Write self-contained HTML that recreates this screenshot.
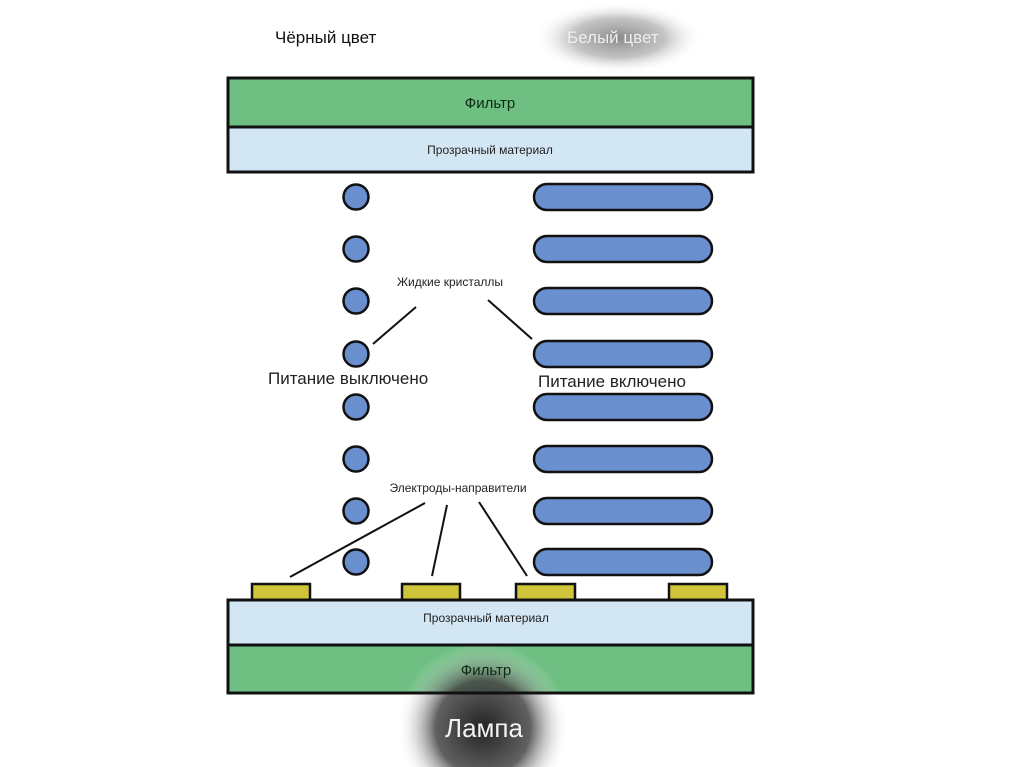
<!DOCTYPE html>
<html><head><meta charset="utf-8"><style>
html,body{margin:0;padding:0;background:#fff;width:1024px;height:767px;overflow:hidden}
svg{display:block;overflow:hidden}
text{font-family:"Liberation Sans","DejaVu Sans",sans-serif}
</style></head><body>
<svg width="1024" height="767" viewBox="0 0 1024 767">
<defs>
<radialGradient id="lamp" gradientUnits="userSpaceOnUse" cx="483" cy="728" r="86">
<stop offset="0" stop-color="#222"/><stop offset="0.55" stop-color="#444" stop-opacity="0.85"/><stop offset="1" stop-color="#fff" stop-opacity="0"/>
</radialGradient>
<radialGradient id="white" cx="50%" cy="50%" r="50%">
<stop offset="0" stop-color="#8a8a8a"/><stop offset="0.55" stop-color="#aaa" stop-opacity="0.7"/><stop offset="1" stop-color="#fff" stop-opacity="0"/>
</radialGradient>
</defs>
<ellipse cx="618" cy="38" rx="85" ry="36" fill="url(#white)"/>
<text x="275" y="43" font-size="17" fill="#111">Чёрный цвет</text>
<text x="567" y="43" font-size="17" fill="#eee">Белый цвет</text>

<rect x="228" y="78" width="525" height="49" fill="#6fbf82" stroke="#111" stroke-width="3"/>
<rect x="228" y="127" width="525" height="45" fill="#d3e6f4" stroke="#111" stroke-width="3"/>
<text x="490" y="108" font-size="15" text-anchor="middle" fill="#0d2a12">Фильтр</text>
<text x="490" y="154" font-size="12" text-anchor="middle" fill="#222">Прозрачный материал</text>

<g fill="#6a8fcf" stroke="#111" stroke-width="2.5">
<circle cx="356" cy="197" r="12.5"/><circle cx="356" cy="249" r="12.5"/><circle cx="356" cy="301" r="12.5"/><circle cx="356" cy="354" r="12.5"/>
<circle cx="356" cy="407" r="12.5"/><circle cx="356" cy="459" r="12.5"/><circle cx="356" cy="511" r="12.5"/><circle cx="356" cy="562" r="12.5"/>
<rect x="534" y="184" width="178" height="26" rx="13"/><rect x="534" y="236" width="178" height="26" rx="13"/>
<rect x="534" y="288" width="178" height="26" rx="13"/><rect x="534" y="341" width="178" height="26" rx="13"/>
<rect x="534" y="394" width="178" height="26" rx="13"/><rect x="534" y="446" width="178" height="26" rx="13"/>
<rect x="534" y="498" width="178" height="26" rx="13"/><rect x="534" y="549" width="178" height="26" rx="13"/>
</g>

<text x="450" y="286" font-size="12" text-anchor="middle" fill="#222">Жидкие кристаллы</text>
<g stroke="#111" stroke-width="2">
<line x1="416" y1="307" x2="373" y2="344"/><line x1="488" y1="300" x2="532" y2="339"/>
<line x1="425" y1="503" x2="290" y2="577"/><line x1="447" y1="505" x2="432" y2="576"/><line x1="479" y1="502" x2="527" y2="576"/>
</g>
<text x="268" y="384" font-size="17" fill="#222">Питание выключено</text>
<text x="538" y="387" font-size="17" fill="#222">Питание включено</text>
<text x="458" y="492" font-size="12" text-anchor="middle" fill="#222">Электроды-направители</text>

<g fill="#cfc43a" stroke="#111" stroke-width="2.5">
<rect x="252" y="584" width="58" height="16"/><rect x="402" y="584" width="58" height="16"/>
<rect x="516" y="584" width="59" height="16"/><rect x="669" y="584" width="58" height="16"/>
</g>
<rect x="228" y="600" width="525" height="45" fill="#d3e6f4" stroke="#111" stroke-width="3"/>
<rect x="228" y="645" width="525" height="48" fill="#6fbf82" stroke="#111" stroke-width="3"/>
<rect x="397" y="642" width="172" height="125" fill="url(#lamp)"/>
<rect x="228" y="645" width="525" height="48" fill="none" stroke="#111" stroke-width="3"/>
<text x="486" y="622" font-size="12" text-anchor="middle" fill="#222">Прозрачный материал</text>
<text x="486" y="675" font-size="15" text-anchor="middle" fill="#0d2a12">Фильтр</text>
<text x="484" y="737" font-size="26" text-anchor="middle" fill="#f2f2f2">Лампа</text>
</svg>
</body></html>
